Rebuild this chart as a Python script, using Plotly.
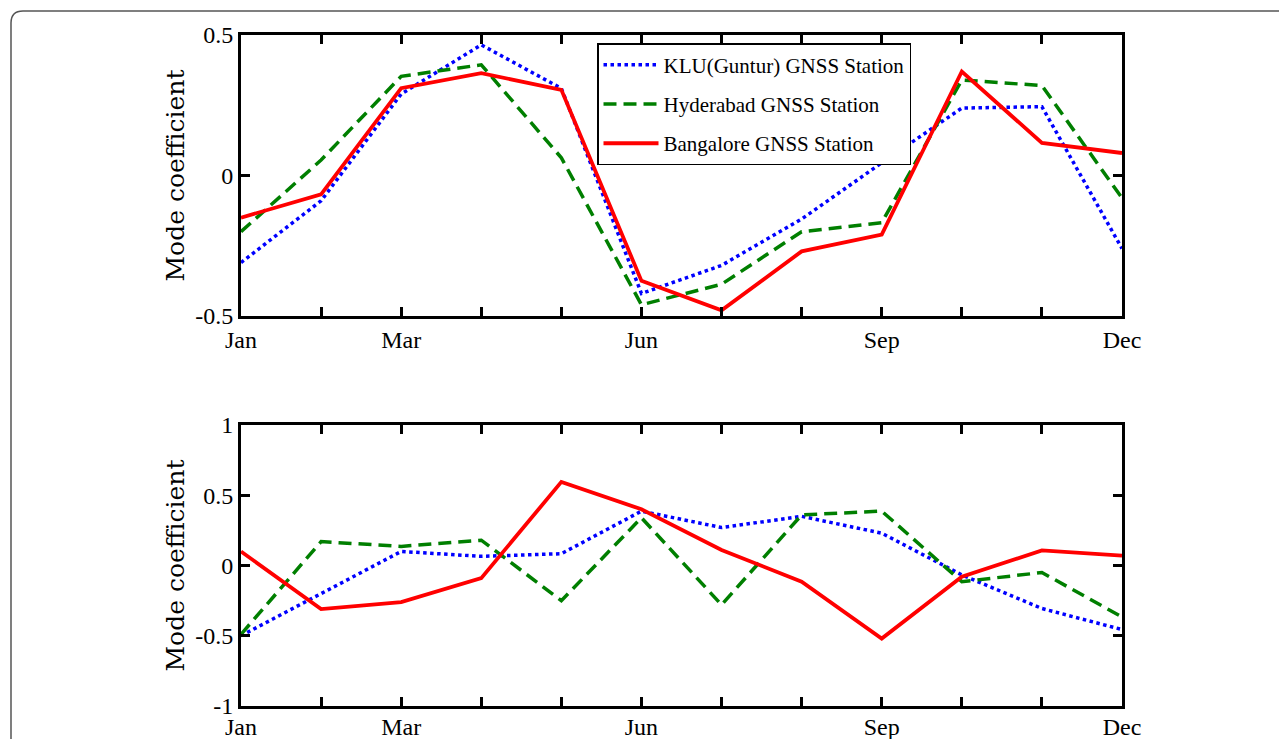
import plotly.graph_objects as go
from plotly.subplots import make_subplots

months = ["Jan", "Feb", "Mar", "Apr", "May", "Jun", "Jul", "Aug", "Sep", "Oct", "Nov", "Dec"]
month_idx = list(range(1, 13))
shown_labels = ["Jan", "", "Mar", "", "", "Jun", "", "", "Sep", "", "", "Dec"]

series_names = ["KLU(Guntur) GNSS Station", "Hyderabad GNSS Station", "Bangalore GNSS Station"]

# Mode 1 coefficients (top panel)
klu_mode1 = [-0.31, -0.09, 0.29, 0.465, 0.31, -0.42, -0.32, -0.155, 0.045, 0.24, 0.245, -0.26]
hyd_mode1 = [-0.20, 0.055, 0.353, 0.394, 0.063, -0.46, -0.387, -0.20, -0.168, 0.34, 0.32, -0.08]
ban_mode1 = [-0.15, -0.067, 0.311, 0.364, 0.305, -0.375, -0.48, -0.27, -0.21, 0.37, 0.116, 0.08]

# Mode 2 coefficients (bottom panel)
klu_mode2 = [-0.50, -0.20, 0.10, 0.065, 0.084, 0.387, 0.27, 0.35, 0.23, -0.067, -0.306, -0.456]
hyd_mode2 = [-0.49, 0.17, 0.136, 0.18, -0.25, 0.34, -0.28, 0.36, 0.387, -0.115, -0.05, -0.366]
ban_mode2 = [0.10, -0.31, -0.26, -0.09, 0.595, 0.40, 0.11, -0.115, -0.52, -0.08, 0.107, 0.07]

top_yticks = [-0.5, 0, 0.5]
top_yticktext = ["-0.5", "0", "0.5"]
bot_yticks = [-1, -0.5, 0, 0.5, 1]
bot_yticktext = ["-1", "-0.5", "0", "0.5", "1"]

colors = ["#0000FF", "#007F00", "#FF0000"]
dashes = ["dot", "13px,7px", "solid"]
widths = [3.5, 3.5, 3.8]

OFF = 8  # page body margin
W, H = 1287, 739
# target (reference page) pixel positions of the plot area
ref_left, ref_right, ref_top, ref_bottom = 241, 1122, 35, 706
ml = ref_left - OFF
mr = W - (ref_right - OFF)
mt = ref_top - OFF
mb = H - (ref_bottom - OFF)
pw = W - ml - mr
ph = H - mt - mb


def px_x(p):
    return (p - OFF - ml) / pw


def px_y(p):
    return (H - mb - (p - OFF)) / ph


top_dom = [px_y(316), 1.0]
bot_dom = [0.0, px_y(425)]

fig = make_subplots(rows=2, cols=1)

mode1 = [klu_mode1, hyd_mode1, ban_mode1]
mode2 = [klu_mode2, hyd_mode2, ban_mode2]
for i in range(3):
    fig.add_trace(go.Scatter(x=month_idx, y=mode1[i], mode="lines", name=series_names[i],
                             legendgroup="g%d" % i,
                             line=dict(color=colors[i], dash=dashes[i], width=widths[i])),
                  row=1, col=1)
for i in range(3):
    fig.add_trace(go.Scatter(x=month_idx, y=mode2[i], mode="lines", name=series_names[i],
                             showlegend=False,
                             line=dict(color=colors[i], dash=dashes[i], width=widths[i])),
                  row=2, col=1)

font_main = "Liberation Serif, Times New Roman, serif"
font_title = "DejaVu Serif, serif"
axis_common = dict(showline=True, linecolor="black", linewidth=2.8, mirror="ticks",
                   ticks="inside", ticklen=9, tickwidth=2.8, tickcolor="black",
                   showgrid=False, zeroline=False, automargin=False,
                   tickfont=dict(family=font_main, size=24, color="black"))

fig.update_xaxes(range=[1, 12], tickmode="array", tickvals=month_idx, ticktext=shown_labels,
                 domain=[0, 1], **axis_common)
fig.update_xaxes(ticklabelstandoff=-3, row=2, col=1)
fig.update_yaxes(**axis_common)
ytitle = dict(text="Mode coefficient", font=dict(family=font_title, size=25, color="black"),
              standoff=4)
fig.update_yaxes(range=[-0.5, 0.5], tickmode="array", tickvals=top_yticks, ticktext=top_yticktext,
                 domain=top_dom, row=1, col=1, title=ytitle)
fig.update_yaxes(range=[-1, 1], tickmode="array", tickvals=bot_yticks, ticktext=bot_yticktext,
                 domain=bot_dom, row=2, col=1, title=ytitle)

# Outer rounded frame (paper coordinates)
x0, y0 = px_x(11), px_y(11)
xr, yb = px_x(1300), px_y(760)
rx, ry = 12 / pw, 12 / ph
path = "M %f,%f L %f,%f Q %f,%f %f,%f L %f,%f" % (x0, yb, x0, y0 - ry, x0, y0, x0 + rx, y0, xr, y0)

fig.update_layout(
    width=W, height=H,
    margin=dict(l=ml, r=mr, t=mt, b=mb, autoexpand=False),
    paper_bgcolor="white", plot_bgcolor="white",
    font=dict(family=font_main, color="black"),
    showlegend=True,
    legend=dict(x=px_x(597), y=px_y(43), xanchor="left", yanchor="top",
                bgcolor="white", bordercolor="black", borderwidth=1.5,
                font=dict(family=font_main, size=21, color="black"),
                itemwidth=55, tracegroupgap=9, traceorder="grouped"),
    shapes=[dict(type="path", path=path, xref="paper", yref="paper",
                 line=dict(color="#555555", width=1.5), layer="below")],
)

fig.write_html("out.html")
